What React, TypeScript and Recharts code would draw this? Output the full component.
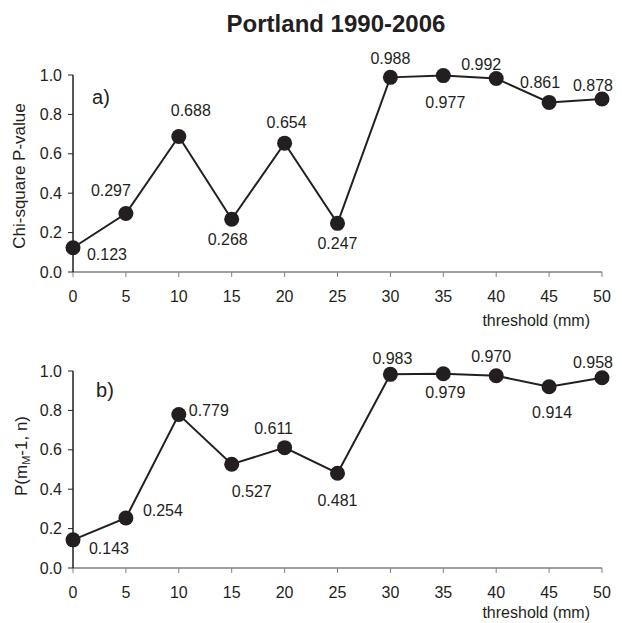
import { LineChart, Line, XAxis, YAxis } from "recharts"

const thresholds = [0, 5, 10, 15, 20, 25, 30, 35, 40, 45, 50]
const xTicks = [0, 5, 10, 15, 20, 25, 30, 35, 40, 45, 50]
const yTicks = [0, 0.2, 0.4, 0.6, 0.8, 1.0]

// panel a: chi-square p-value
const chiValues = [0.123, 0.297, 0.688, 0.268, 0.654, 0.247, 0.988, 0.997, 0.982, 0.861, 0.878]
const chiLabels = ["0.123", "0.297", "0.688", "0.268", "0.654", "0.247", "0.988", "0.977", "0.992", "0.861", "0.878"]

// panel b: P(mM-1, n)
const pValues = [0.143, 0.254, 0.779, 0.527, 0.611, 0.481, 0.983, 0.986, 0.976, 0.92, 0.966]
const pLabels = ["0.143", "0.254", "0.779", "0.527", "0.611", "0.481", "0.983", "0.979", "0.970", "0.914", "0.958"]

// where each value label sits relative to its dot
const chiLabelOffsets = [[34, 7], [-15, -23], [12, -26], [-4, 20], [2, -21], [0, 20], [0, -19], [2, 27], [-15, -14], [-9, -20], [-9, -14]]
const pLabelOffsets = [[36, 9], [37, -7], [30, -4], [20, 27], [-11, -19], [0, 27], [2, -16], [2, 19], [-5, -19], [3, 26], [-9, -15]]

const FONT = "'Liberation Sans', Arial, sans-serif"
const INK = "#231f20"

const chiData = thresholds.map((t, i) => ({ t, v: chiValues[i], label: chiLabels[i] }))
const pData = thresholds.map((t, i) => ({ t, v: pValues[i], label: pLabels[i] }))

function makeDot(offsets: number[][]) {
  return (props: any) => {
    const { cx, cy, index, payload } = props
    const [dx, dy] = offsets[index] || [0, -18]
    return (
      <g key={`dot-${index}`}>
        <circle cx={cx} cy={cy} r={7.5} fill={INK} />
        <text x={cx + dx} y={cy + dy} textAnchor="middle" dominantBaseline="central" fontSize={16} fill={INK} fontFamily={FONT}>
          {payload.label}
        </text>
      </g>
    )
  }
}

function Panel({ data, offsets, top, height, marginTop }: any) {
  return (
    <div style={{ position: "absolute", left: 0, top, width: 622, height }}>
      <LineChart width={622} height={height} data={data} margin={{ top: marginTop, right: 20, left: 0, bottom: 0 }}>
        <XAxis
          dataKey="t"
          type="number"
          domain={[0, 50]}
          ticks={xTicks}
          height={48}
          axisLine={{ stroke: "#808080", strokeWidth: 1.5 }}
          tickLine={{ stroke: "#808080" }}
          tickSize={5}
          tickMargin={14}
          tick={{ fontSize: 16, fill: INK, fontFamily: FONT }}
          interval={0}
        />
        <YAxis
          type="number"
          domain={[0, 1]}
          ticks={yTicks}
          width={73}
          axisLine={{ stroke: INK, strokeWidth: 1.5 }}
          tickLine={{ stroke: INK }}
          tickSize={5}
          tickMargin={6}
          tick={{ fontSize: 16, fill: INK, fontFamily: FONT }}
          tickFormatter={(v: number) => v.toFixed(1)}
          interval={0}
        />
        <Line
          dataKey="v"
          stroke={INK}
          strokeWidth={2}
          dot={makeDot(offsets)}
          activeDot={false}
          isAnimationActive={false}
        />
      </LineChart>
    </div>
  )
}

export default function App() {
  return (
    <div style={{ position: "absolute", left: 0, top: 0, width: 622, height: 623, background: "#fff", fontFamily: FONT }}>
      <Panel data={chiData} offsets={chiLabelOffsets} top={0} height={320} marginTop={75} />
      <Panel data={pData} offsets={pLabelOffsets} top={300} height={316} marginTop={71} />
      <svg width={622} height={623} style={{ position: "absolute", left: 0, top: 0, pointerEvents: "none" }}>
        <text x={336} y={23} textAnchor="middle" dominantBaseline="central" fontSize={24} fontWeight="bold" fill={INK} fontFamily={FONT}>
          Portland 1990-2006
        </text>
        <text x={101} y={97} textAnchor="middle" dominantBaseline="central" fontSize={20} fill={INK} fontFamily={FONT}>a)</text>
        <text x={105} y={390} textAnchor="middle" dominantBaseline="central" fontSize={20} fill={INK} fontFamily={FONT}>b)</text>
        <text x={590} y={320} textAnchor="end" dominantBaseline="central" fontSize={16} fill={INK} fontFamily={FONT}>threshold (mm)</text>
        <text x={590} y={612} textAnchor="end" dominantBaseline="central" fontSize={16} fill={INK} fontFamily={FONT}>threshold (mm)</text>
        <text transform="translate(19,176) rotate(-90)" textAnchor="middle" dominantBaseline="central" fontSize={17} fill={INK} fontFamily={FONT}>
          Chi-square P-value
        </text>
        <text transform="translate(21,456) rotate(-90)" textAnchor="middle" dominantBaseline="central" fontSize={17} fill={INK} fontFamily={FONT}>
          P(m<tspan fontSize={11} dy={5}>M</tspan><tspan dy={-5}>-1, n)</tspan>
        </text>
      </svg>
    </div>
  )
}
